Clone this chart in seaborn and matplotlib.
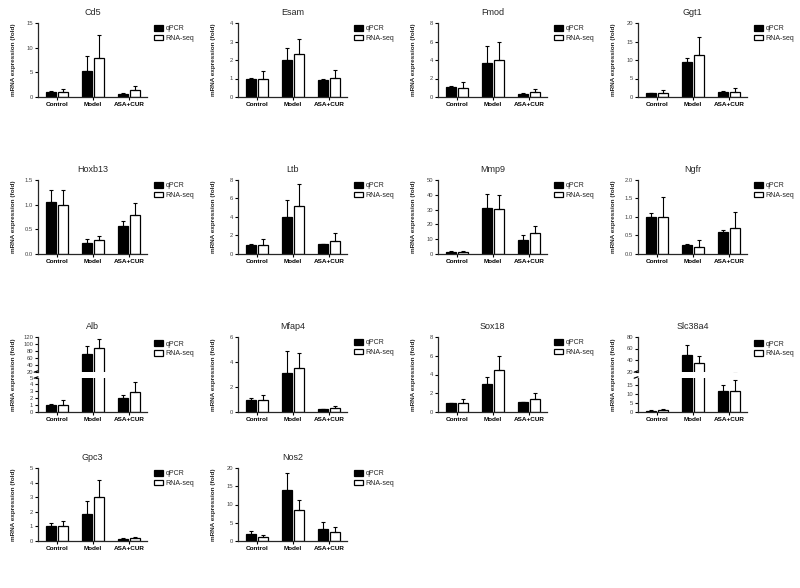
import numpy as np
import pandas as pd
import matplotlib
matplotlib.use('Agg')
import matplotlib.pyplot as plt
import seaborn as sns

# groups and genes
groups = ['Control', 'Model', 'ASA+CUR']
methods = ['qPCR', 'RNA-seq']
genes = ['Cd5', 'Esam', 'Fmod', 'Ggt1',
         'Hoxb13', 'Ltb', 'Mmp9', 'Ngfr',
         'Alb', 'Mfap4', 'Sox18', 'Slc38a4',
         'Gpc3', 'Nos2']

# mean values (Control, Model, ASA+CUR)
qpcr_mean = [[1.05, 5.2, 0.65], [1.0, 2.0, 0.9], [1.05, 3.66, 0.36], [1.0, 9.45, 1.45],
             [1.05, 0.22, 0.565], [1.0, 4.0, 1.04], [1.35, 31.0, 9.4], [1.0, 0.23, 0.585],
             [1.0, 71.0, 2.05], [1.0, 3.1, 0.24], [0.97, 2.95, 1.05], [0.8, 48.0, 11.8],
             [1.0, 1.85, 0.15], [1.8, 14.0, 3.4]]
rnaseq_mean = [[1.05, 7.85, 1.35], [1.0, 2.33, 1.05], [1.0, 4.0, 0.5], [1.1, 11.45, 1.45],
               [1.0, 0.28, 0.8], [1.0, 5.23, 1.43], [1.35, 30.5, 14.1], [1.0, 0.2, 0.7],
               [1.0, 87.0, 2.83], [1.0, 3.51, 0.32], [1.0, 4.43, 1.4], [1.15, 35.0, 11.4],
               [1.0, 3.0, 0.2], [1.0, 8.5, 2.5]]
# upper error (SD)
qpcr_err = [[0.1, 3.1, 0.2], [0.05, 0.65, 0.1], [0.18, 1.8, 0.07], [0.1, 1.0, 0.1],
            [0.24, 0.08, 0.1], [0.04, 1.85, 0.03], [0.45, 9.6, 3.4], [0.1, 0.05, 0.075],
            [0.1, 24.0, 0.35], [0.16, 1.82, 0.03], [0.03, 0.75, 0.04], [0.2, 18.5, 3.2],
            [0.2, 0.9, 0.05], [1.0, 4.5, 1.9]]
rnaseq_err = [[0.65, 4.65, 0.9], [0.4, 0.8, 0.42], [0.6, 2.0, 0.33], [0.7, 4.75, 0.9],
              [0.29, 0.08, 0.23], [0.65, 2.33, 0.83], [0.45, 9.4, 4.7], [0.55, 0.17, 0.43],
              [0.7, 27.0, 1.5], [0.35, 1.22, 0.14], [0.44, 1.57, 0.65], [0.5, 12.0, 6.1],
              [0.4, 1.15, 0.1], [0.7, 2.8, 1.3]]
# y axis ranges and tick steps
y_max = [15, 4, 8, 20, 1.5, 8, 50, 2.0, None, 6, 8, None, 5, 20]
y_step = [5, 1, 2, 5, 0.5, 2, 10, 0.5, None, 2, 2, None, 1, 5]
tick_fmt = ['{:.0f}', '{:.0f}', '{:.0f}', '{:.0f}', '{:.1f}', '{:.0f}', '{:.0f}', '{:.1f}',
            '{:.0f}', '{:.0f}', '{:.0f}', '{:.0f}', '{:.0f}', '{:.0f}']
# broken axes: (lower max, lower ticks, upper min, upper max, upper ticks)
broken = {'Alb': (5, [0, 1, 2, 3, 4, 5], 20, 120, [20, 40, 60, 80, 100, 120]),
          'Slc38a4': (19, [0, 5, 10, 15], 20, 80, [20, 40, 60, 80])}

sns.set_style('ticks')
plt.rcParams['font.family'] = ['Liberation Sans', 'DejaVu Sans']

W, H = 800, 588
fig = plt.figure(figsize=(8, 5.88), dpi=100)

col_x = [38, 238, 438, 638]
row_y = [(23, 97), (180, 254), (337, 412), (468, 541)]
ax_w = 109

palette = {'qPCR': 'black', 'RNA-seq': 'white'}


def draw_bars(ax, i):
    df = pd.DataFrame({'group': groups * 2,
                       'method': [methods[0]] * 3 + [methods[1]] * 3,
                       'value': qpcr_mean[i] + rnaseq_mean[i]})
    sns.barplot(data=df, x='group', y='value', hue='method', palette=palette,
                edgecolor='black', linewidth=0.9, width=0.66, gap=0.16,
                errorbar=None, ax=ax, legend=True)
    for cont, errs in zip(ax.containers, [qpcr_err[i], rnaseq_err[i]]):
        for bar, e in zip(cont, errs):
            xc = bar.get_x() + bar.get_width() / 2
            ax.errorbar([xc], [bar.get_height()], yerr=[[0], [e]], color='black',
                        lw=0.8, capsize=1.6, capthick=0.8, zorder=1)
    ax.set_xlim(-0.52, 2.5)
    ax.set_xlabel('')
    ax.set_ylabel('')


def style(ax):
    sns.despine(ax=ax)
    for s in ['left', 'bottom']:
        ax.spines[s].set_linewidth(0.9)
    ax.tick_params(axis='both', length=2, width=0.8, pad=1.5, labelsize=4.2,
                   colors='black')
    ax.tick_params(axis='y', labelcolor='#444444')


def add_legend(ax):
    h, l = ax.get_legend_handles_labels()
    ax.legend(h, l, loc='upper left', bbox_to_anchor=(1.02, 1.04), frameon=False,
              fontsize=5, handlelength=1.3, handleheight=0.9, handletextpad=0.35,
              labelspacing=0.35, borderaxespad=0.3)


for i, gene in enumerate(genes):
    r, c = divmod(i, 4)
    top, bot = row_y[r]
    left = col_x[c] / W
    width = ax_w / W
    if gene not in broken:
        ax = fig.add_axes([left, 1 - bot / H, width, (bot - top) / H])
        draw_bars(ax, i)
        ticks = np.arange(0, y_max[i] + y_step[i] / 2, y_step[i])
        ax.set_ylim(0, y_max[i])
        ax.set_yticks(ticks)
        ax.set_yticklabels([tick_fmt[i].format(t) for t in ticks])
        style(ax)
        add_legend(ax)
        ax.set_title(gene, fontsize=6.5, pad=6)
        ax.set_ylabel('mRNA expression (fold)', fontsize=4.6, fontweight='bold')
        ax.yaxis.set_label_coords(-0.2, 0.5)
    else:
        lo_max, lo_ticks, up_min, up_max, up_ticks = broken[gene]
        lo_top = top + (bot - top) * 0.54
        up_bot = top + (bot - top) * 0.46
        ax_lo = fig.add_axes([left, 1 - bot / H, width, (bot - lo_top) / H])
        ax_up = fig.add_axes([left, 1 - up_bot / H, width, (up_bot - top) / H])
        draw_bars(ax_lo, i)
        draw_bars(ax_up, i)
        ax_lo.set_ylim(0, lo_max)
        ax_lo.set_yticks(lo_ticks)
        ax_up.set_ylim(up_min, up_max)
        ax_up.set_yticks(up_ticks)
        style(ax_lo)
        style(ax_up)
        ax_lo.get_legend().remove()
        ax_up.spines['bottom'].set_visible(False)
        ax_up.tick_params(axis='x', bottom=False, labelbottom=False)
        add_legend(ax_up)
        ax_up.set_title(gene, fontsize=6.5, pad=6)
        # break marks on the y axis
        for a, yy in [(ax_lo, 1.0), (ax_up, 0.0)]:
            a.plot([-0.035, 0.0], [yy - 0.02, yy + 0.02], transform=a.transAxes,
                   color='black', lw=0.9, clip_on=False)
        ax_lo.set_ylabel('mRNA expression (fold)', fontsize=4.6, fontweight='bold')
        hl = bot - lo_top
        ax_lo.yaxis.set_label_coords(-0.2, (bot - (top + bot) / 2) / hl)
    for lbl in (ax_lo if gene in broken else ax).get_xticklabels():
        lbl.set_fontweight('bold')
        lbl.set_fontsize(4.6)

fig.savefig('out.png', dpi=100, facecolor='white')
